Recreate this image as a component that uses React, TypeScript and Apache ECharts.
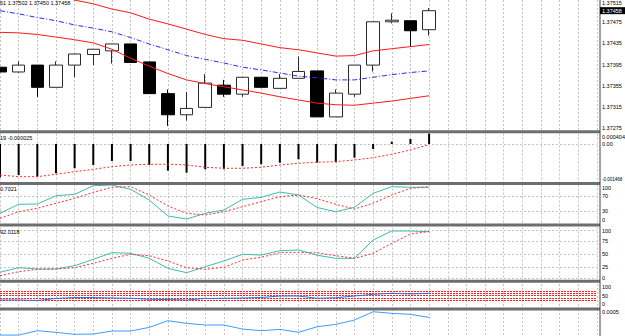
import { useEffect, useRef } from "react";
import * as echarts from "echarts";

// ---------- data ----------
const categories = Array.from({ length: 33 }, (_, i) => `B${i + 1}`);

// [open, close, low, high]
const candles = [
  [1.3739, 1.37381, 1.37379, 1.37392],
  [1.37381, 1.37394, 1.3738, 1.37401],
  [1.37394, 1.37352, 1.37334, 1.37394],
  [1.37352, 1.37394, 1.37352, 1.37401],
  [1.37394, 1.37415, 1.37371, 1.37415],
  [1.37414, 1.37424, 1.37394, 1.37424],
  [1.37421, 1.37434, 1.37397, 1.37434],
  [1.37434, 1.37399, 1.37399, 1.37434],
  [1.374, 1.3734, 1.3734, 1.374],
  [1.3734, 1.373, 1.37279, 1.37348],
  [1.373, 1.37312, 1.37289, 1.37343],
  [1.37314, 1.3736, 1.37314, 1.37377],
  [1.37356, 1.37339, 1.37334, 1.37366],
  [1.37339, 1.37371, 1.37334, 1.37371],
  [1.37371, 1.37352, 1.37352, 1.37371],
  [1.3735, 1.37369, 1.3735, 1.37377],
  [1.37369, 1.37382, 1.37369, 1.3741],
  [1.37383, 1.37296, 1.37296, 1.37383],
  [1.37296, 1.37341, 1.37296, 1.37348],
  [1.37339, 1.37394, 1.37334, 1.37394],
  [1.37394, 1.37476, 1.37382, 1.37476],
  [1.37476, 1.37479, 1.37473, 1.37492],
  [1.37478, 1.37459, 1.37429, 1.37478],
  [1.37461, 1.37497, 1.3745, 1.37502],
];

const bbUpper = [1.37555, 1.37544, 1.37534, 1.37526, 1.37517, 1.3751, 1.375, 1.37493, 1.37481, 1.37472, 1.37462, 1.37452, 1.37444, 1.37441, 1.37434, 1.37427, 1.37423, 1.37417, 1.37411, 1.37412, 1.37421, 1.37425, 1.37429, 1.37433];
const bbMiddle = [1.37497, 1.37491, 1.37484, 1.37478, 1.3747, 1.37464, 1.37457, 1.37446, 1.37434, 1.37423, 1.37412, 1.37405, 1.37398, 1.3739, 1.37385, 1.37379, 1.37373, 1.3737, 1.37366, 1.37366, 1.37371, 1.37376, 1.3738, 1.37383];
const bbLower = [1.37456, 1.37455, 1.37452, 1.37447, 1.37442, 1.37436, 1.37424, 1.37407, 1.37392, 1.37378, 1.37366, 1.37359, 1.37353, 1.37347, 1.37341, 1.37334, 1.37328, 1.37322, 1.37319, 1.37318, 1.37322, 1.37326, 1.37331, 1.37336];

const priceTicks = [1.37515, 1.37475, 1.37435, 1.37395, 1.37355, 1.37315, 1.37275];
const priceMin = 1.372693;
const priceMax = 1.375172;
const levelGreen = 1.37489;
const levelOrange = 1.37424;
const bidPrice = 1.37497;
const bidLabel = "1.37458";
const mainHeader = "61 1.37502 1.37450 1.37458";

const macdHist = [-0.00128, -0.001197, -0.001262, -0.001131, -0.000938, -0.000811, -0.000656, -0.000656, -0.000811, -0.001031, -0.001108, -0.000977, -0.000977, -0.000849, -0.000784, -0.000722, -0.000591, -0.000714, -0.000706, -0.000529, -0.000193, 0.000089, 0.000193, 0.000404];
const macdSignal = [-0.001197, -0.001262, -0.001262, -0.00117, -0.001069, -0.000977, -0.000876, -0.000811, -0.000784, -0.000784, -0.000811, -0.000899, -0.000938, -0.000938, -0.000899, -0.000811, -0.000745, -0.000706, -0.000683, -0.000618, -0.000529, -0.000398, -0.000232, -0.000025];
const macdTicks = [0.000404, 0, -0.001468];
const macdTickLabels = ["0.000404", "0.00", "-0.001468"];
const macdHeader = "19 -0.000025";

const stochMain = [25.2, 48.6, 49.3, 70.9, 74.5, 96.9, 98.7, 87.5, 59.7, 18.2, 10.4, 25.2, 33.8, 61.5, 66.7, 80.5, 72.7, 40.3, 29.3, 40.8, 77.1, 94.3, 92.7, 92.7];
const stochSignal = [12.2, 29.3, 38.2, 51.2, 64.1, 79.7, 92.7, 94.3, 72.7, 44.1, 25.2, 20.8, 29.3, 42.3, 55.3, 68.3, 72.7, 63.1, 48.6, 36.4, 51.2, 72.7, 90.1, 94.3];
const stochLevels = [70, 30];
const stochTicks = [100, 70, 30, 0];
const stochHeader = "0.7021";

const stoch2Main = [15.5, 24.2, 21.7, 21.7, 27.9, 40.0, 52.5, 51.3, 41.9, 23.0, 14.7, 26.0, 36.8, 49.4, 48.1, 56.2, 57.6, 47.6, 41.9, 41.9, 76.4, 93.4, 93.4, 92.01];
const stoch2Signal = [9.1, 16.6, 21.1, 21.7, 24.2, 32.5, 41.9, 49.4, 46.8, 36.8, 24.2, 21.1, 24.9, 38.7, 43.8, 52.5, 53.2, 52.3, 46.8, 41.9, 51.3, 70.2, 87.7, 92.5];
const stoch2Levels = [95, 75, 50, 25, 5];
const stoch2Ticks = [100, 75, 50, 25, 0];
const stoch2Header = "92.0118";

const rsiLine = [30.4, 30.4, 28.3, 37.0, 41.3, 41.3, 39.1, 37.8, 33.5, 32.6, 30.4, 37.0, 37.8, 39.1, 41.3, 47.8, 47.8, 37.8, 40.4, 47.8, 55.2, 59.6, 56.5, 59.6];
const rsiLevels = [70, 60, 50, 40, 30];
const rsiTicks = [100, 50, 0];

const osmaLine = [0.00008, 0.00008, 0.00015, 0.000124, 0.000092, 0.000097, 0.000145, 0.000145, 0.000204, 0.000311, 0.000269, 0.000242, 0.000242, 0.000177, 0.00015, 0.000172, 0.000124, 0.000214, 0.000253, 0.000322, 0.000456, 0.00043, 0.000414, 0.000365];
const osmaTicks = [0.0005];
const osmaTickLabels = ["0.0005"];

// ---------- layout ----------
const FONT = "Liberation Sans";
const FS = 5.5;
const PLOT_W = 597;
const panels = [
  { top: 0, height: 131, min: priceMin, max: priceMax },
  { top: 133.5, height: 48.5, min: -0.001468, max: 0.000404 },
  { top: 184.5, height: 38.5, min: 0, max: 100 },
  { top: 227.5, height: 53, min: 0, max: 100 },
  { top: 284, height: 23, min: 0, max: 100 },
  { top: 309, height: 27, min: 0.000065, max: 0.0005 },
];
const separators = [131.7, 183.5, 225, 281.3, 309];

const gridStyle = { color: "#c4c4c4", type: [2, 2] as any, width: 1 };

function gridLines(values: number[], style: any = gridStyle) {
  return values.map((v) => ({ yAxis: v, lineStyle: style }));
}

export default function App() {
  const ref = useRef<HTMLDivElement>(null);
  useEffect(() => {
    document.body.style.margin = "0";
    if (!ref.current) return;
    const chart = echarts.init(ref.current, null, { renderer: "svg" });

    const grids = panels.map((p) => ({ left: 0, width: PLOT_W, top: p.top, height: p.height }));
    const xAxes = panels.map((_, i) => ({
      type: "category",
      gridIndex: i,
      data: categories,
      boundaryGap: false,
      axisLine: { show: false },
      axisTick: { show: false },
      axisLabel: { show: false },
      splitLine: { show: true, interval: 0, lineStyle: gridStyle },
    }));
    const yAxes = panels.map((p, i) => ({
      type: "value",
      gridIndex: i,
      min: p.min,
      max: p.max,
      show: false,
      splitLine: { show: false },
    }));
    const noSym = { symbol: ["none", "none"], silent: true, label: { show: false } };

    const series: any[] = [
      {
        type: "candlestick",
        xAxisIndex: 0,
        yAxisIndex: 0,
        data: candles,
        barWidth: 13,
        itemStyle: {
          color: "#ffffff",
          color0: "#000000",
          borderColor: "#2a2a2a",
          borderColor0: "#000000",
          borderWidth: 1,
        },
        markLine: {
          ...noSym,
          z: 1,
          data: [
            ...gridLines(priceTicks),
            { yAxis: bidPrice, lineStyle: { color: "#c8c8c8", type: "solid", width: 1 } },
            { yAxis: levelGreen, lineStyle: { color: "#5cb85c", type: [6, 2, 1, 2], width: 1 } },
            { yAxis: levelOrange, lineStyle: { color: "#f0522a", type: [6, 2, 1, 2], width: 1 } },
          ],
        },
      },
      { type: "line", xAxisIndex: 0, yAxisIndex: 0, data: bbUpper, symbol: "none", lineStyle: { color: "#ff1a1a", width: 1 }, z: 3 },
      { type: "line", xAxisIndex: 0, yAxisIndex: 0, data: bbMiddle, symbol: "none", lineStyle: { color: "#2a2aff", width: 1, type: [5, 2, 1, 2] }, z: 3 },
      { type: "line", xAxisIndex: 0, yAxisIndex: 0, data: bbLower, symbol: "none", lineStyle: { color: "#ff1a1a", width: 1 }, z: 3 },
      {
        type: "bar",
        xAxisIndex: 1,
        yAxisIndex: 1,
        data: macdHist,
        barWidth: 2,
        itemStyle: { color: "#000000" },
        markLine: { ...noSym, z: 1, data: gridLines([0]) },
      },
      { type: "line", xAxisIndex: 1, yAxisIndex: 1, data: macdSignal, symbol: "none", lineStyle: { color: "#ff2a2a", width: 1, type: [2, 2] }, z: 3 },
      {
        type: "line",
        xAxisIndex: 2,
        yAxisIndex: 2,
        data: stochMain,
        symbol: "none",
        lineStyle: { color: "#3cbcae", width: 1 },
        z: 3,
        markLine: { ...noSym, z: 1, data: gridLines(stochLevels) },
      },
      { type: "line", xAxisIndex: 2, yAxisIndex: 2, data: stochSignal, symbol: "none", lineStyle: { color: "#ff2a2a", width: 1, type: [2, 2] }, z: 3 },
      {
        type: "line",
        xAxisIndex: 3,
        yAxisIndex: 3,
        data: stoch2Main,
        symbol: "none",
        lineStyle: { color: "#3cbcae", width: 1 },
        z: 3,
        markLine: { ...noSym, z: 1, data: gridLines(stoch2Levels) },
      },
      { type: "line", xAxisIndex: 3, yAxisIndex: 3, data: stoch2Signal, symbol: "none", lineStyle: { color: "#ff2a2a", width: 1, type: [2, 2] }, z: 3 },
      {
        type: "line",
        xAxisIndex: 4,
        yAxisIndex: 4,
        data: rsiLine,
        symbol: "none",
        lineStyle: { color: "#2f6fe0", width: 1 },
        z: 3,
        markLine: { ...noSym, z: 1, data: gridLines(rsiLevels, { color: "#ff2020", type: [2, 1], width: 1 }) },
      },
      { type: "line", xAxisIndex: 5, yAxisIndex: 5, data: osmaLine, symbol: "none", lineStyle: { color: "#3a9cff", width: 1 }, z: 3 },
    ];

    chart.setOption({
      animation: false,
      backgroundColor: "#ffffff",
      grid: grids,
      xAxis: xAxes,
      yAxis: yAxes,
      series,
    });

    const tickSets = [
      { ticks: priceTicks, labels: priceTicks.map((v) => v.toFixed(5)) },
      { ticks: macdTicks, labels: macdTickLabels },
      { ticks: stochTicks, labels: stochTicks.map(String) },
      { ticks: stoch2Ticks, labels: stoch2Ticks.map(String) },
      { ticks: rsiTicks, labels: rsiTicks.map(String) },
      { ticks: osmaTicks, labels: osmaTickLabels },
    ];
    const graphics: any[] = [];
    separators.forEach((y) => {
      graphics.push({ type: "rect", shape: { x: 0, y: y - 1.5, width: 600, height: 3 }, style: { fill: "#6e6e6e" }, z: 50 });
    });
    graphics.push({ type: "line", shape: { x1: 600, y1: 0, x2: 600, y2: 336 }, style: { stroke: "#444444", lineWidth: 1 }, z: 50 });
    tickSets.forEach((t, i) => {
      const p = panels[i];
      t.ticks.forEach((v, j) => {
        let y = chart.convertToPixel({ yAxisIndex: i } as any, v) as unknown as number;
        y = Math.max(p.top + 3, Math.min(p.top + p.height - 3, y));
        const label = t.labels[j];
        const fs = label.length > 8 ? 4.5 : FS;
        graphics.push({
          type: "text",
          x: 602,
          y,
          z: 60,
          style: { text: label, fontSize: fs, fontFamily: FONT, fill: "#000000", verticalAlign: "middle", align: "left" },
        });
      });
    });
    const bidY = chart.convertToPixel({ yAxisIndex: 0 } as any, bidPrice) as unknown as number;
    graphics.push({ type: "rect", shape: { x: 600, y: bidY - 3.5, width: 25, height: 7 }, style: { fill: "#000000" }, z: 61 });
    graphics.push({
      type: "text",
      x: 602,
      y: bidY,
      z: 62,
      style: { text: bidLabel, fontSize: FS, fontFamily: FONT, fill: "#ffffff", verticalAlign: "middle", align: "left" },
    });
    const headers = [
      { text: mainHeader, y: 3 },
      { text: macdHeader, y: 137.5 },
      { text: stochHeader, y: 188.5 },
      { text: stoch2Header, y: 231.5 },
    ];
    headers.forEach((h) => {
      graphics.push({
        type: "text",
        x: 0,
        y: h.y,
        z: 60,
        style: { text: h.text, fontSize: FS, fontFamily: FONT, fill: "#000000", verticalAlign: "middle", align: "left" },
      });
    });
    chart.setOption({ graphic: graphics });

    return () => chart.dispose();
  }, []);
  return <div ref={ref} style={{ width: 625, height: 336 }} />;
}
